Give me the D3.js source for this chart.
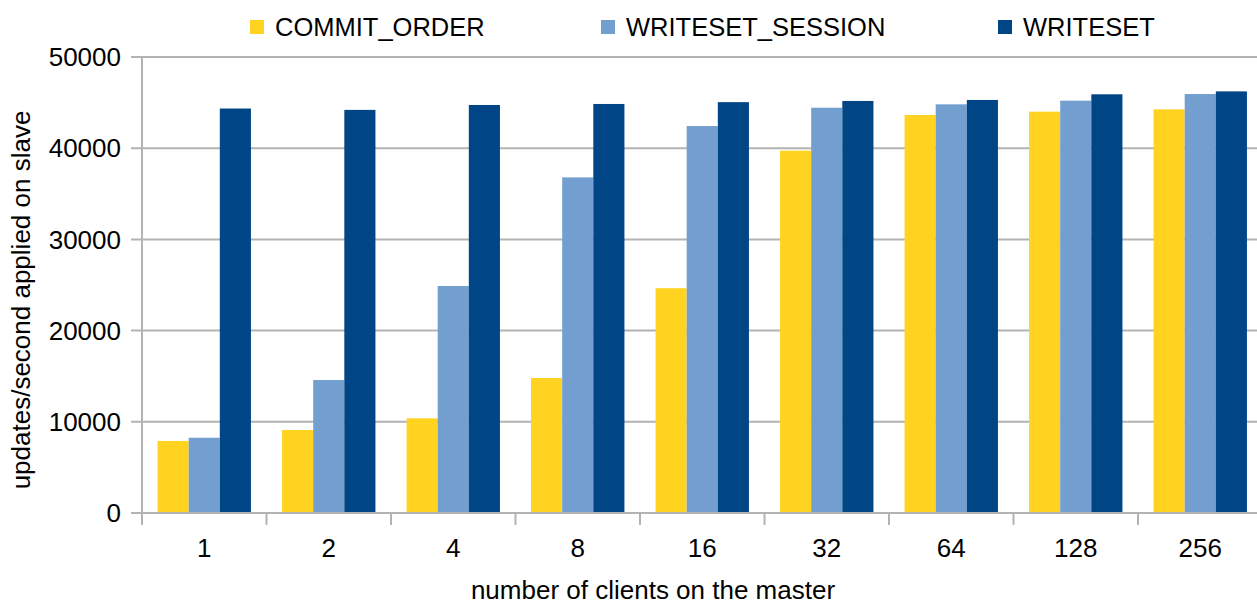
<!DOCTYPE html>
<html>
<head>
<meta charset="utf-8">
<script src="https://cdn.jsdelivr.net/npm/d3@7"></script>
<style>
  body { margin: 0; background: #fff; }
  svg { display: block; font-family: "Liberation Sans", Arial, sans-serif; }
</style>
</head>
<body>
<svg id="chart" width="1257" height="606"></svg>
<script>
// chart data
const clients = ["1", "2", "4", "8", "16", "32", "64", "128", "256"];
const seriesNames = ["COMMIT_ORDER", "WRITESET_SESSION", "WRITESET"];
const commitOrder = [7900, 9100, 10380, 14800, 24650, 39730, 43640, 44010, 44260];
const writesetSession = [8250, 14580, 24890, 36800, 42430, 44440, 44810, 45210, 45940];
const writeset = [44350, 44200, 44740, 44850, 45050, 45180, 45290, 45910, 46230];
const yTicks = [0, 10000, 20000, 30000, 40000, 50000];
const colors = ["#ffd320", "#729fcf", "#004586"];

const values = [commitOrder, writesetSession, writeset];

const svg = d3.select("#chart");
const plotLeft = 142, plotBottom = 513, plotTop = 57, plotRight = 142 + 9 * 124.5;

const x0 = d3.scaleBand().domain(clients).range([plotLeft, plotRight]).padding(0);
const x1 = d3.scaleBand().domain(seriesNames).range([0, x0.bandwidth()])
  .paddingInner(0).paddingOuter(0.5);
const y = d3.scaleLinear().domain([0, 50000]).range([plotBottom, plotTop]);

// gridlines
svg.append("g").selectAll("line")
  .data(yTicks)
  .join("line")
  .attr("x1", plotLeft - 11).attr("x2", plotRight)
  .attr("y1", d => y(d)).attr("y2", d => y(d))
  .attr("stroke", "#b3b3b3").attr("stroke-width", 2);

// y labels
svg.append("g").selectAll("text")
  .data(yTicks)
  .join("text")
  .attr("x", 121).attr("y", d => y(d))
  .attr("dy", "0.35em")
  .attr("text-anchor", "end")
  .attr("font-size", 26)
  .attr("fill", "#000")
  .text(d => d);

// bars
const groups = svg.append("g").selectAll("g")
  .data(clients)
  .join("g")
  .attr("transform", d => `translate(${x0(d)},0)`);

groups.selectAll("rect")
  .data((c, i) => seriesNames.map((s, k) => ({ s, k, v: values[k][i] })))
  .join("rect")
  .attr("x", d => x1(d.s))
  .attr("width", x1.bandwidth())
  .attr("y", d => y(d.v))
  .attr("height", d => plotBottom - y(d.v))
  .attr("fill", d => colors[d.k]);

// x axis line and ticks
svg.append("line")
  .attr("x1", plotLeft).attr("x2", plotRight)
  .attr("y1", plotBottom).attr("y2", plotBottom)
  .attr("stroke", "#b3b3b3").attr("stroke-width", 2);
svg.append("line")
  .attr("x1", plotLeft).attr("x2", plotLeft)
  .attr("y1", plotTop).attr("y2", plotBottom + 12)
  .attr("stroke", "#b3b3b3").attr("stroke-width", 2);
svg.append("g").selectAll("line")
  .data(clients.slice(1))
  .join("line")
  .attr("x1", d => x0(d)).attr("x2", d => x0(d))
  .attr("y1", plotBottom).attr("y2", plotBottom + 12)
  .attr("stroke", "#b3b3b3").attr("stroke-width", 2);

svg.append("g").selectAll("text")
  .data(clients)
  .join("text")
  .attr("x", d => x0(d) + x0.bandwidth() / 2)
  .attr("y", 557)
  .attr("text-anchor", "middle")
  .attr("font-size", 26)
  .attr("fill", "#000")
  .text(d => d);

// axis titles
svg.append("text")
  .attr("x", 653).attr("y", 599)
  .attr("text-anchor", "middle")
  .attr("font-size", 26)
  .attr("fill", "#000")
  .text("number of clients on the master");

svg.append("text")
  .attr("transform", "translate(30,300) rotate(-90)")
  .attr("text-anchor", "middle")
  .attr("font-size", 26)
  .attr("fill", "#000")
  .text("updates/second applied on slave");

// legend
const legendX = [250, 601, 998];
const legend = svg.append("g").selectAll("g")
  .data(seriesNames)
  .join("g")
  .attr("transform", (d, i) => `translate(${legendX[i]},20)`);
legend.append("rect")
  .attr("width", 14).attr("height", 14)
  .attr("fill", (d, i) => colors[i]);
legend.append("text")
  .attr("x", 25).attr("y", 7)
  .attr("dy", "0.35em")
  .attr("font-size", 25.5)
  .attr("fill", "#000")
  .text(d => d);
</script>
</body>
</html>
